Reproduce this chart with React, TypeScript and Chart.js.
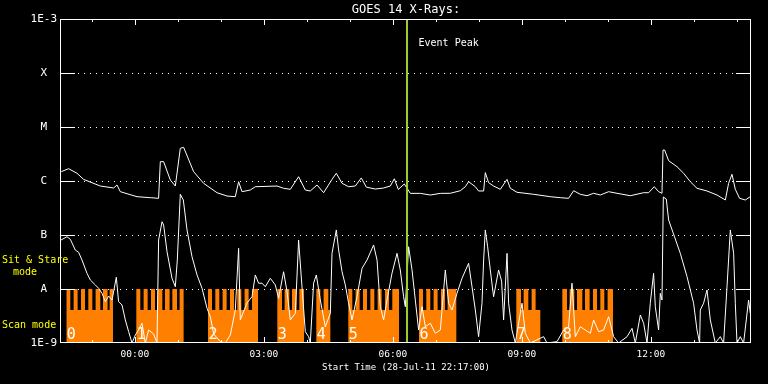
import React, { useEffect, useRef } from 'react';
import { Chart, registerables } from 'chart.js';

Chart.register(...registerables);

// Time axis: hours relative to 00:00 UT, 29-Jul-11 (start 22:17 on 28-Jul-11)
const X_MIN = -1.7167;
const X_MAX = 14.33;

const xTickValues = [0, 3, 6, 9, 12];
const xTickLabels = ['00:00', '03:00', '06:00', '09:00', '12:00'];
const hourMarks = [-1, 0, 1, 2, 3, 4, 5, 6, 7, 8, 9, 10, 11, 12, 13, 14];

const yTickValues = [1e-9, 1e-8, 1e-7, 1e-6, 1e-5, 1e-4, 1e-3];
const yTickLabels = ['1E-9', 'A', 'B', 'C', 'M', 'X', '1E-3'];

// Long channel (1-8 A)
const longTimes = [
  -1.709, -1.540, -1.344, -1.191, -0.802, -0.493, -0.414, -0.337, 0.051, 0.360,
  0.553, 0.593, 0.670, 0.826, 0.942, 1.058, 1.135, 1.367, 1.600, 1.912,
  2.144, 2.337, 2.414, 2.493, 2.686, 2.802, 3.307, 3.460, 3.616, 3.809,
  3.965, 4.081, 4.237, 4.391, 4.586, 4.686, 4.819, 4.972, 5.128, 5.267,
  5.384, 5.593, 5.779, 5.942, 6.035, 6.128, 6.267, 6.407, 6.640, 6.872,
  7.105, 7.337, 7.570, 7.686, 7.763, 7.919, 7.995, 8.112, 8.151, 8.228,
  8.344, 8.500, 8.656, 8.733, 8.888, 9.274, 9.663, 9.895, 10.088, 10.205,
  10.360, 10.516, 10.670, 10.826, 11.019, 11.214, 11.523, 11.833, 11.949, 12.081,
  12.181, 12.260, 12.284, 12.321, 12.414, 12.609, 12.763, 12.919, 13.074, 13.307,
  13.540, 13.733, 13.809, 13.888, 13.965, 14.065, 14.198, 14.314,
];
const longFlux = [
  1.49e-6, 1.69e-6, 1.39e-6, 1.07e-6, 8.07e-7, 7.42e-7, 8.43e-7, 6.34e-7, 5.12e-7, 4.91e-7,
  4.78e-7, 2.28e-6, 2.28e-6, 1.04e-6, 8.07e-7, 4.03e-6, 4.21e-6, 1.49e-6, 9.06e-7, 6.07e-7,
  5.27e-7, 5.12e-7, 9.7e-7, 6.34e-7, 6.81e-7, 7.84e-7, 8.07e-7, 7.33e-7, 7.02e-7, 1.2e-6,
  6.81e-7, 6.53e-7, 8.43e-7, 6.07e-7, 1.07e-6, 1.39e-6, 9.06e-7, 7.84e-7, 8.07e-7, 1.14e-6,
  7.7e-7, 7.1e-7, 7.4e-7, 8.07e-7, 1.1e-6, 7.0e-7, 8.8e-7, 5.9e-7, 5.9e-7, 5.5e-7,
  5.9e-7, 5.92e-7, 6.61e-7, 7.84e-7, 9.7e-7, 7.84e-7, 6.53e-7, 6.53e-7, 1.43e-6, 9.31e-7,
  8.07e-7, 7.02e-7, 1.07e-6, 7.33e-7, 6.18e-7, 5.67e-7, 5.12e-7, 4.91e-7, 4.78e-7, 6.61e-7,
  5.67e-7, 5.34e-7, 5.92e-7, 5.5e-7, 6.34e-7, 5.92e-7, 5.34e-7, 6.07e-7, 6.07e-7, 7.84e-7,
  6.34e-7, 5.92e-7, 3.75e-6, 3.75e-6, 2.38e-6, 1.84e-6, 1.39e-6, 9.7e-7, 7.33e-7, 6.53e-7,
  5.5e-7, 4.45e-7, 9.06e-7, 1.33e-6, 7.02e-7, 4.78e-7, 4.45e-7, 5.12e-7,
];

// Short channel (0.5-4 A)
const shortTimes = [
  -1.716, -1.577, -1.500, -1.384, -1.307, -1.228, -1.112, -1.035, -0.919, -0.842,
  -0.763, -0.686, -0.609, -0.530, -0.430, -0.377, -0.298, -0.221, -0.144, -0.065,
  0.012, 0.088, 0.167, 0.244, 0.321, 0.437, 0.516, 0.553, 0.633, 0.670,
  0.749, 0.865, 0.942, 0.988, 1.058, 1.128, 1.214, 1.330, 1.447, 1.563,
  1.679, 1.756, 1.833, 1.988, 2.105, 2.221, 2.337, 2.414, 2.453, 2.609,
  2.726, 2.802, 2.879, 2.958, 3.035, 3.151, 3.267, 3.344, 3.460, 3.540,
  3.616, 3.733, 3.809, 3.888, 3.965, 4.042, 4.081, 4.158, 4.221, 4.314,
  4.430, 4.547, 4.586, 4.686, 4.740, 4.819, 4.895, 4.972, 5.051, 5.167,
  5.284, 5.400, 5.553, 5.633, 5.709, 5.786, 5.865, 5.981, 6.098, 6.174,
  6.251, 6.291, 6.367, 6.447, 6.523, 6.600, 6.679, 6.756, 6.872, 6.988,
  7.105, 7.221, 7.298, 7.377, 7.493, 7.609, 7.763, 7.842, 7.919, 7.995,
  8.074, 8.112, 8.151, 8.205, 8.267, 8.344, 8.460, 8.530, 8.577, 8.656,
  8.693, 8.772, 8.849, 8.965, 9.005, 9.081, 9.198, 9.507, 9.586, 9.819,
  9.972, 10.088, 10.167, 10.244, 10.360, 10.477, 10.593, 10.670, 10.786, 10.902,
  11.019, 11.135, 11.251, 11.447, 11.563, 11.640, 11.756, 11.833, 11.912, 11.988,
  12.065, 12.105, 12.181, 12.221, 12.260, 12.291, 12.360, 12.414, 12.686, 12.842,
  12.995, 13.074, 13.135, 13.151, 13.228, 13.307, 13.384, 13.500, 13.616, 13.693,
  13.772, 13.849, 13.926, 13.965, 14.005, 14.081, 14.158, 14.274, 14.314,
];
const shortFlux = [
  8.07e-8, 9.31e-8, 8.32e-8, 5.27e-8, 4.78e-8, 3.44e-8, 1.95e-8, 1.47e-8, 1.19e-8, 1.03e-8,
  8.32e-9, 5.82e-9, 7.42e-9, 6.25e-9, 1.65e-8, 5.82e-9, 5.06e-9, 2.67e-9, 1.62e-9, 1e-9,
  1.41e-9, 1.74e-9, 2.32e-9, 1e-9, 1.74e-9, 1.47e-9, 1e-9, 8.07e-8, 1.76e-7, 1.53e-7,
  4.91e-8, 1.58e-8, 1.1e-8, 3.44e-8, 5.67e-7, 4.45e-7, 1.24e-7, 3.97e-8, 1.82e-8, 1.03e-8,
  4.4e-9, 3.07e-9, 1.47e-9, 1.06e-9, 1e-9, 1.41e-9, 4.08e-9, 5.67e-8, 2.67e-9, 5.51e-9,
  7.2e-9, 1.82e-8, 1.28e-8, 1.28e-8, 1.1e-8, 1.58e-8, 1.19e-8, 6.73e-9, 2.09e-8, 8.91e-9,
  2.67e-9, 3.55e-9, 8.07e-8, 1.1e-8, 1.62e-9, 1.31e-9, 1e-9, 1.28e-8, 1.82e-8, 6.25e-9,
  2.0e-9, 3.55e-9, 4.58e-8, 1.24e-7, 5.27e-8, 2.09e-8, 1.19e-8, 5.46e-9, 2.67e-9, 7.2e-9,
  2.42e-8, 3.44e-8, 6.53e-8, 3.44e-8, 4.7e-9, 2.67e-9, 6.25e-9, 1.95e-8, 4.58e-8, 2.25e-8,
  7.2e-9, 4.7e-9, 6.07e-8, 2.25e-8, 6.25e-9, 1.74e-9, 4.7e-9, 2.0e-9, 2.32e-9, 1.51e-9,
  1.74e-9, 2.25e-8, 5.46e-9, 4.08e-9, 8.32e-9, 1.58e-8, 2.99e-8, 1.1e-8, 4.08e-9, 1.31e-9,
  5.46e-9, 3.44e-8, 1.24e-7, 6.07e-8, 2.25e-8, 7.2e-9, 2.25e-8, 1.4e-8, 2.67e-9, 4.58e-8,
  5.46e-9, 1.74e-9, 1e-9, 3.55e-9, 5.46e-9, 1.51e-9, 1e-9, 1.31e-9, 1e-9, 1.06e-9,
  1.74e-9, 2.0e-9, 1.28e-8, 1.31e-9, 2.0e-9, 1.74e-9, 1.51e-9, 2.67e-9, 1.62e-9, 1.74e-9,
  3.07e-9, 1.31e-9, 1e-9, 1.31e-9, 1.87e-9, 1e-9, 3.3e-9, 2.32e-9, 1e-9, 5.46e-9,
  1.95e-8, 4.7e-9, 1.74e-9, 8.32e-9, 6.25e-9, 5.06e-7, 4.64e-7, 1.9e-7, 4.58e-8, 1.69e-8,
  5.46e-9, 1.74e-9, 1e-9, 4.08e-9, 5.46e-9, 9.58e-9, 2.67e-9, 1e-9, 1.31e-9, 1e-9,
  1.1e-8, 1.24e-7, 4.58e-8, 5.46e-9, 1e-9, 1.31e-9, 1e-9, 6.25e-9, 3.55e-9,
];

// Scan-mode blocks (hours) and their comb teeth
const blockLabels = ['0', '1', '2', '3', '4', '5', '6', '7', '8'];
const blockStarts = [-1.593, 0.035, 1.702, 3.314, 4.221, 4.965, 6.609, 8.872, 9.942];
const blockEnds = [-0.507, 1.135, 2.865, 3.935, 4.547, 6.144, 7.477, 9.430, 11.121];
const toothStarts = [
  [-1.593, -1.423, -1.251, -1.081, -0.912, -0.740, -0.586],
  [0.035, 0.205, 0.377, 0.530, 0.702, 0.872, 1.042],
  [1.702, 1.872, 2.042, 2.214, 2.384, 2.553, 2.726],
  [3.314, 3.484, 3.656, 3.826],
  [4.221, 4.391],
  [4.965, 5.135, 5.307, 5.477, 5.647, 5.819, 5.988],
  [6.609, 6.779, 6.949, 7.121, 7.274],
  [8.872, 9.042, 9.228],
  [9.942, 10.112, 10.284, 10.470, 10.656, 10.826, 10.995],
];
const toothEnds = [
  [-1.500, -1.330, -1.158, -0.988, -0.802, -0.633, -0.507],
  [0.128, 0.298, 0.470, 0.640, 0.809, 0.981, 1.135],
  [1.795, 1.965, 2.135, 2.307, 2.477, 2.647, 2.865],
  [3.423, 3.593, 3.763, 3.935],
  [4.314, 4.500],
  [5.058, 5.228, 5.400, 5.570, 5.740, 5.912, 6.144],
  [6.702, 6.872, 7.042, 7.214, 7.477],
  [8.981, 9.151, 9.321],
  [10.051, 10.221, 10.407, 10.577, 10.749, 10.919, 11.121],
];
const SCAN_TOP = 1e-8;
const SCAN_BASE = 4.1e-9;
const FLUX_MIN = 1e-9;
const FLUX_MAX = 1e-3;

const PEAK_TIME = 6.33;

const MONO = '"DejaVu Sans Mono", monospace';
const ORANGE = '#ff8000';
const GREEN = '#9acd32';

function buildScanPoints() {
  const pts: { x: number; y: number }[] = [];
  blockStarts.forEach((s, i) => {
    pts.push({ x: s, y: FLUX_MIN }, { x: s, y: SCAN_BASE });
    toothStarts[i].forEach((a, j) => {
      const b = toothEnds[i][j];
      pts.push({ x: a, y: SCAN_BASE }, { x: a, y: SCAN_TOP }, { x: b, y: SCAN_TOP }, { x: b, y: SCAN_BASE });
    });
    pts.push({ x: blockEnds[i], y: SCAN_BASE }, { x: blockEnds[i], y: FLUX_MIN });
  });
  return pts;
}

const decorPlugin = {
  id: 'goesDecor',
  beforeDraw(chart: any) {
    const { ctx, width, height } = chart;
    ctx.save();
    ctx.fillStyle = '#000';
    ctx.fillRect(0, 0, width, height);
    ctx.restore();
  },
  beforeDatasetsDraw(chart: any) {
    const { ctx, chartArea: a, scales } = chart;
    const y = scales.y;
    ctx.save();
    ctx.strokeStyle = '#fff';
    ctx.lineWidth = 1;
    ctx.setLineDash([1, 5]);
    yTickValues.slice(1, -1).forEach((v) => {
      const py = Math.round(y.getPixelForValue(v)) + 0.5;
      ctx.beginPath();
      ctx.moveTo(a.left + 17, py);
      ctx.lineTo(a.right - 15, py);
      ctx.stroke();
    });
    ctx.restore();
  },
  afterDatasetsDraw(chart: any) {
    const { ctx, chartArea: a, scales } = chart;
    const x = scales.x;
    const y = scales.y;
    ctx.save();
    // frame
    ctx.strokeStyle = '#fff';
    ctx.lineWidth = 1;
    ctx.setLineDash([]);
    ctx.strokeRect(a.left - 0.5, a.top + 0.5, a.right - a.left, a.bottom - a.top - 1);
    // decade ticks left / right
    yTickValues.slice(1, -1).forEach((v) => {
      const py = Math.round(y.getPixelForValue(v)) + 0.5;
      ctx.beginPath();
      ctx.moveTo(a.left, py);
      ctx.lineTo(a.left + 14, py);
      ctx.moveTo(a.right - 15, py);
      ctx.lineTo(a.right, py);
      ctx.stroke();
    });
    // hour ticks top / bottom
    hourMarks.forEach((h) => {
      const px = Math.round(x.getPixelForValue(h)) + 0.5;
      const len = h % 3 === 0 ? 6 : 3;
      ctx.beginPath();
      ctx.moveTo(px, a.top);
      ctx.lineTo(px, a.top + len);
      ctx.moveTo(px, a.bottom);
      ctx.lineTo(px, a.bottom - len);
      ctx.stroke();
    });
    // block numbers
    ctx.fillStyle = '#fff';
    ctx.font = `15px ${MONO}`;
    ctx.textBaseline = 'alphabetic';
    ctx.textAlign = 'left';
    blockStarts.forEach((s, i) => {
      ctx.fillText(blockLabels[i], x.getPixelForValue(s) + 0.5, a.bottom - 4.5);
    });
    // event peak label
    ctx.font = `10px ${MONO}`;
    ctx.textBaseline = 'middle';
    ctx.fillText('Event Peak', x.getPixelForValue(PEAK_TIME) + 11.5, 43);
    // mode labels
    ctx.fillStyle = '#ffff00';
    ctx.textBaseline = 'alphabetic';
    ctx.fillText('Sit & Stare', 2, 262.5);
    ctx.fillText('mode', 13, 275);
    ctx.fillText('Scan mode', 2, 327.5);
    ctx.restore();
  },
};

export default function App() {
  const ref = useRef<HTMLCanvasElement>(null);

  useEffect(() => {
    const canvas = ref.current;
    if (!canvas) return;
    const longData = longTimes.map((t, i) => ({ x: t, y: longFlux[i] }));
    const shortData = shortTimes.map((t, i) => ({ x: t, y: shortFlux[i] }));
    const peakData = [
      { x: PEAK_TIME, y: FLUX_MIN },
      { x: PEAK_TIME, y: FLUX_MAX },
    ];

    const chart = new Chart(canvas, {
      type: 'line',
      data: {
        datasets: [
          {
            label: 'Event Peak',
            data: peakData,
            borderColor: GREEN,
            borderWidth: 2,
            pointRadius: 0,
            fill: false,
          },
          {
            label: 'Long',
            data: longData,
            borderColor: '#ffffff',
            borderWidth: 1,
            pointRadius: 0,
            tension: 0,
            fill: false,
          },
          {
            label: 'Short',
            data: shortData,
            borderColor: '#ffffff',
            borderWidth: 1,
            pointRadius: 0,
            tension: 0,
            fill: false,
          },
          {
            label: 'Scan',
            data: buildScanPoints(),
            borderColor: 'rgba(0,0,0,0)',
            borderWidth: 0,
            backgroundColor: ORANGE,
            pointRadius: 0,
            tension: 0,
            fill: 'start',
          },
        ],
      },
      options: {
        responsive: false,
        animation: false,
        devicePixelRatio: 1,
        layout: { padding: { left: 0, right: 17, top: 0, bottom: 0 } },
        plugins: {
          legend: { display: false },
          tooltip: { enabled: false },
          title: {
            display: true,
            text: 'GOES 14 X-Rays:',
            color: '#ffffff',
            fullSize: false,
            font: { family: MONO, size: 12, weight: 'normal', lineHeight: 1.2 },
            padding: { top: 2.8, bottom: 1.8 },
          },
        },
        scales: {
          x: {
            type: 'linear',
            min: X_MIN,
            max: X_MAX,
            grid: { display: false, drawTicks: false },
            border: { display: false },
            afterBuildTicks: (scale: any) => {
              scale.ticks = xTickValues.map((v) => ({ value: v }));
            },
            afterFit: (scale: any) => {
              scale.height = 41;
            },
            ticks: {
              color: '#ffffff',
              font: { family: MONO, size: 9.5 },
              padding: 6,
              maxRotation: 0,
              autoSkip: false,
              callback: (_v: any, i: number) => xTickLabels[i],
            },
            title: {
              display: true,
              text: 'Start Time (28-Jul-11 22:17:00)',
              color: '#ffffff',
              font: { family: MONO, size: 9 },
              padding: { top: 0, bottom: 10.6 },
            },
          },
          y: {
            type: 'logarithmic',
            min: FLUX_MIN,
            max: FLUX_MAX,
            grid: { display: false, drawTicks: false },
            border: { display: false },
            afterBuildTicks: (scale: any) => {
              scale.ticks = yTickValues.map((v) => ({ value: v }));
            },
            afterFit: (scale: any) => {
              scale.width = 61;
            },
            ticks: {
              color: '#ffffff',
              font: { family: MONO, size: 11 },
              padding: 4,
              crossAlign: 'center',
              autoSkip: false,
              callback: (_v: any, i: number) => yTickLabels[i],
            },
          },
        },
      },
      plugins: [decorPlugin],
    } as any);

    return () => chart.destroy();
  }, []);

  return (
    <div style={{ position: 'fixed', left: 0, top: 0, width: 768, height: 384, background: '#000' }}>
      <canvas ref={ref} width={768} height={384} style={{ display: 'block', width: 768, height: 384 }} />
    </div>
  );
}
